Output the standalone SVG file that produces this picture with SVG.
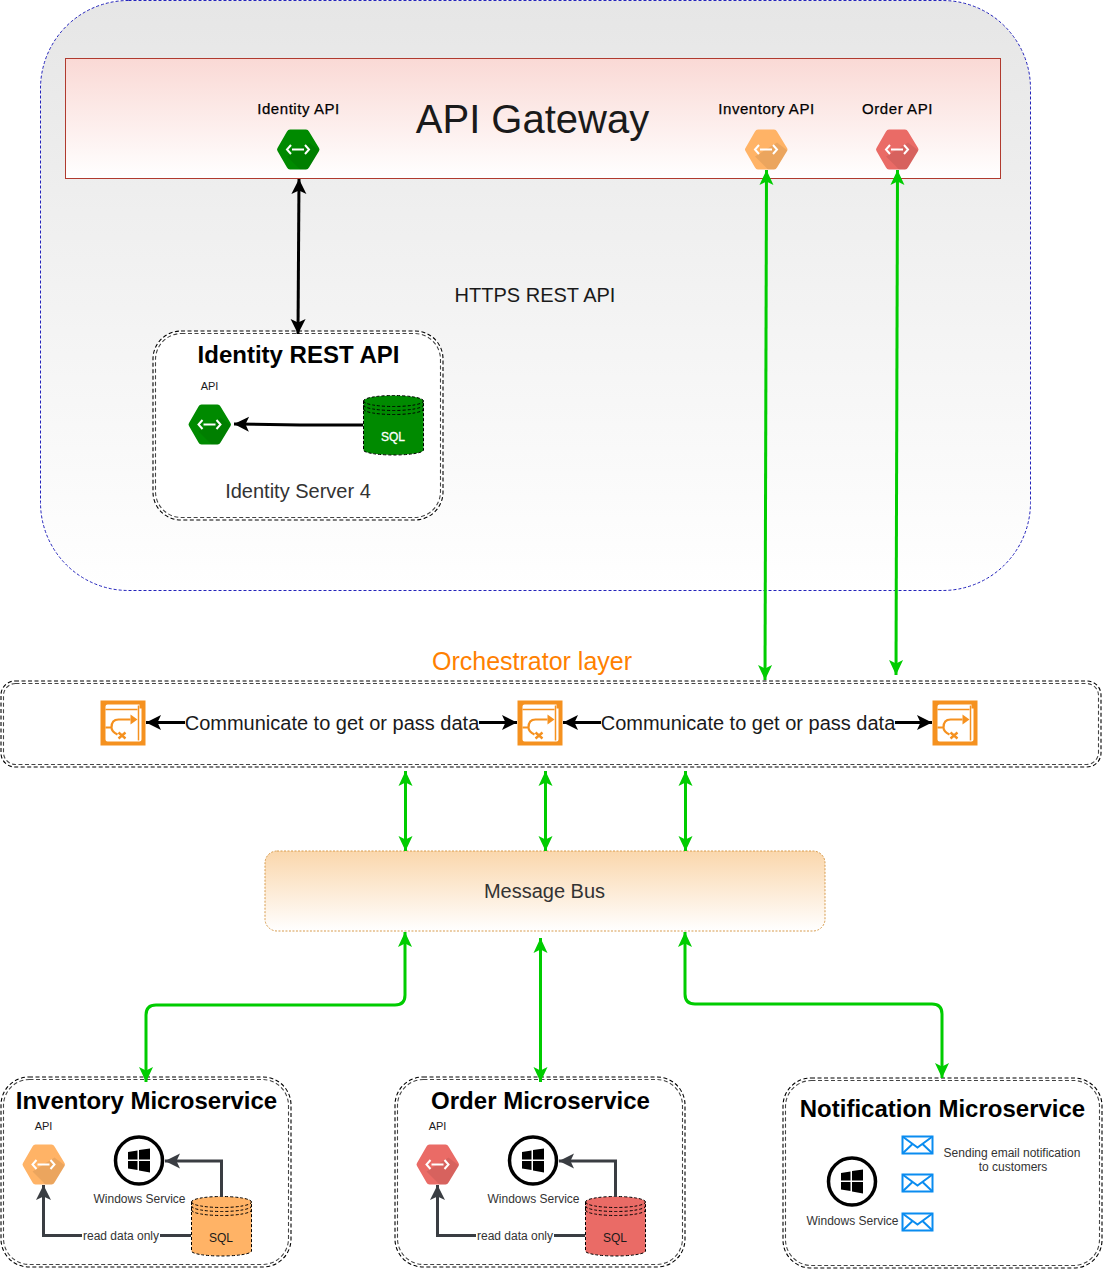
<svg xmlns="http://www.w3.org/2000/svg" width="1103" height="1269" viewBox="0 0 1103 1269">
<style>
text{font-family:"Liberation Sans",Arial,sans-serif;fill:#1a1a1a;text-anchor:middle}
.b{font-weight:bold;fill:#000}
.t{font-size:15px;letter-spacing:.55px;fill:#000;stroke:#000;stroke-width:.25}
.g{font-size:12px;fill:#333}
.d1{fill:#fff;stroke:#000;stroke-width:1.100;stroke-dasharray:4 2.500}
.d2{fill:none;stroke:#444;stroke-width:1.100;stroke-dasharray:4 2.500}
.gr{fill:none;stroke:#00cc00;stroke-width:3;marker-start:url(#ga);marker-end:url(#ga)}
.bk{fill:none;stroke:#000;stroke-width:3}
.dk{fill:none;stroke:#3a3d42;stroke-width:3;marker-end:url(#da)}
.mail{fill:#fff;stroke:#0a8cf0;stroke-width:2}
.cyl{stroke:#000;stroke-dasharray:3 2}
.cl{fill:none;stroke:#000;stroke-dasharray:3 2}
</style>
<defs>
<linearGradient id="bgG" x1="0" y1="0" x2="0" y2="1"><stop offset="0" stop-color="#e6e6e6"/><stop offset="1" stop-color="#fff"/></linearGradient>
<linearGradient id="redG" x1="0" y1="0" x2="0" y2="1"><stop offset="0" stop-color="#fad9d5"/><stop offset="1" stop-color="#fff"/></linearGradient>
<linearGradient id="busG" x1="0" y1="0" x2="0" y2="1"><stop offset="0" stop-color="#fad7ac"/><stop offset="1" stop-color="#fff"/></linearGradient>
<marker id="ga" markerUnits="userSpaceOnUse" markerWidth="18" markerHeight="18" viewBox="0 -9 18 18" refX="16" refY="0" orient="auto-start-reverse"><path d="M1-7L16 0L1 7L4.500 0Z" fill="#00cc00"/></marker>
<marker id="ka" markerUnits="userSpaceOnUse" markerWidth="18" markerHeight="18" viewBox="0 -9 18 18" refX="16" refY="0" orient="auto-start-reverse"><path d="M1-7.500L16 0L1 7.500L4.500 0Z" fill="#000"/></marker>
<marker id="da" markerUnits="userSpaceOnUse" markerWidth="18" markerHeight="18" viewBox="0 -9 18 18" refX="16" refY="0" orient="auto"><path d="M1-7.500L16 0L1 7.500L4.500 0Z" fill="#3a3d42"/></marker>
<path id="hexS" d="M-20.500-1.500L-11-18Q-10-20-8-20H8Q10-20 11-18L21-1.500Q22 0 21 1.500L11 18Q10 20 8 20H-8Q-10 20-11 18L-20.500 1.500Q-21.500 0-20.500-1.500Z"/>
<g id="hexI" fill="none" stroke="#fff" stroke-width="2"><path d="M-6 0H6"/><path d="M-7-4.500L-11 0L-7 4.500M7-4.500L11 0L7 4.500"/></g>
<path id="hexD" d="M11-7L21.500 1L11 18Q10 20 8 20H2L-11 7Z" fill="#000" opacity=".08"/>
<g id="orch"><rect x="0" y="0" width="45" height="45" fill="#f5911f"/><path d="M5 6Q5 4 7 4H39V8H41V39Q41 41 39 41H7Q5 41 5 39Z" fill="#fff"/><path d="M38 5V40" stroke="#f5911f" stroke-width="1.500"/><path d="M5 9H37" stroke="#f5911f" stroke-width="1.500"/><path d="M5 27H10M30 19H18Q11 19 11 27Q11 31 17 34" fill="none" stroke="#f5911f" stroke-width="2.200"/><path d="M30 14V24L37 19Z" fill="#f5911f"/><path d="M18 32L25 38M25 32L18 38" stroke="#f5911f" stroke-width="2.400"/></g>
<g id="win"><circle cx="0" cy="0" r="23.500" fill="#fff" stroke="#000" stroke-width="3.500"/><path d="M-11-8.500L-1.500-10V-1H-11ZM0-10.500L11-12V-1H0ZM-11 .5H-1.500V9.500L-11 8ZM0 .5H11V12L0 10Z" fill="#000"/></g>
<g id="mailI"><rect x="0" y="0" width="30" height="17" class="mail"/><path d="M0 0L15 11L30 0M0 17L10 7.500M30 17L20 7.500" class="mail" style="fill:none"/></g>
</defs>

<g id="api-zone"><rect x="40.500" y="0.500" width="990" height="590" rx="88" fill="url(#bgG)" stroke="#2222bb" stroke-width="1" stroke-dasharray="3 2"/></g>
<g id="api-gateway"><rect x="65.500" y="58.500" width="935" height="120" fill="url(#redG)" stroke="#b03a2e"/>
<text x="532.500" y="133" font-size="40">API Gateway</text></g>

<g id="identity-api"><text x="298.500" y="114" class="t">Identity API</text><use href="#hexS" x="298" y="149.500" fill="#008a00"/><use href="#hexD" x="298" y="149.500"/><use href="#hexI" x="298" y="149.500"/></g>
<g id="inventory-api"><text x="766.500" y="114" class="t">Inventory API</text><use href="#hexS" x="766" y="149.500" fill="#ffb366"/><use href="#hexD" x="766" y="149.500"/><use href="#hexI" x="766" y="149.500"/></g>
<g id="order-api"><text x="897.500" y="114" class="t">Order API</text><use href="#hexS" x="897" y="149.500" fill="#ea6b66"/><use href="#hexD" x="897" y="149.500"/><use href="#hexI" x="897" y="149.500"/></g>
<g id="https-label"><text x="535" y="302" font-size="20">HTTPS REST API</text></g>

<g id="identity-rest"><rect x="153" y="331" width="290" height="189" rx="28" class="d1"/><rect x="155.500" y="333.500" width="285" height="184" rx="26" class="d2"/>
<text x="298.500" y="363" class="b" font-size="24">Identity REST API</text>
<text x="209.500" y="390" font-size="11">API</text>
<use href="#hexS" x="209.500" y="424.500" fill="#008a00"/><use href="#hexD" x="209.500" y="424.500"/><use href="#hexI" x="209.500" y="424.500"/>
<path d="M363.500 401V450A30 5 0 0 0 423.500 450V401A30 5.500 0 0 0 363.500 401Z" fill="#008a00" class="cyl"/><path d="M363.500 401A30 5.500 0 0 0 423.500 401M363.500 405A30 5.500 0 0 0 423.500 405M363.500 409A30 5.500 0 0 0 423.500 409" class="cl"/><text x="393" y="441" font-size="12" style="fill:#fff;stroke:#fff;stroke-width:.3">SQL</text>
<text x="298" y="498" font-size="20" style="fill:#333">Identity Server 4</text></g>

<g id="orchestrator"><text x="532" y="670" font-size="25" style="fill:#ff8000">Orchestrator layer</text>
<rect x="1" y="681" width="1100" height="86" rx="14" class="d1"/><rect x="3.500" y="683.500" width="1095" height="81" rx="12" class="d2"/>
<use href="#orch" x="100.500" y="700.500"/><use href="#orch" x="517.500" y="700.500"/><use href="#orch" x="932.500" y="700.500"/>
<text x="332" y="730" font-size="20">Communicate to get or pass data</text><text x="748" y="730" font-size="20">Communicate to get or pass data</text></g>

<g id="message-bus"><rect x="265" y="851" width="560" height="80" rx="12" fill="url(#busG)" stroke="#d79b4c" stroke-dasharray="2 1.500"/><text x="544.500" y="898" font-size="20" style="fill:#333">Message Bus</text></g>

<g id="inventory-ms"><rect x="1" y="1077" width="290" height="190" rx="28" class="d1"/><rect x="3.500" y="1079.500" width="285" height="185" rx="26" class="d2"/>
<text x="146.500" y="1109" class="b" font-size="24">Inventory Microservice</text>
<text x="43.500" y="1130" font-size="11">API</text>
<use href="#hexS" x="43.500" y="1164.500" fill="#ffb366"/><use href="#hexD" x="43.500" y="1164.500"/><use href="#hexI" x="43.500" y="1164.500"/>
<use href="#win" x="139" y="1160.500"/><text x="139.500" y="1203" class="g">Windows Service</text>
<path d="M191.500 1202V1251A30 5 0 0 0 251.500 1251V1202A30 5.500 0 0 0 191.500 1202Z" fill="#ffb366" class="cyl"/><path d="M191.500 1202A30 5.500 0 0 0 251.500 1202M191.500 1206A30 5.500 0 0 0 251.500 1206M191.500 1210A30 5.500 0 0 0 251.500 1210" class="cl"/><text x="221" y="1242" font-size="12">SQL</text></g>

<g id="order-ms"><rect x="395" y="1077" width="290" height="190" rx="28" class="d1"/><rect x="397.500" y="1079.500" width="285" height="185" rx="26" class="d2"/>
<text x="540.500" y="1109" class="b" font-size="24">Order Microservice</text>
<text x="437.500" y="1130" font-size="11">API</text>
<use href="#hexS" x="437.500" y="1164.500" fill="#ea6b66"/><use href="#hexD" x="437.500" y="1164.500"/><use href="#hexI" x="437.500" y="1164.500"/>
<use href="#win" x="533" y="1160.500"/><text x="533.500" y="1203" class="g">Windows Service</text>
<path d="M585.500 1202V1251A30 5 0 0 0 645.500 1251V1202A30 5.500 0 0 0 585.500 1202Z" fill="#ea6b66" class="cyl"/><path d="M585.500 1202A30 5.500 0 0 0 645.500 1202M585.500 1206A30 5.500 0 0 0 645.500 1206M585.500 1210A30 5.500 0 0 0 645.500 1210" class="cl"/><text x="615" y="1242" font-size="12">SQL</text></g>

<g id="notification-ms"><rect x="783" y="1078" width="319" height="190" rx="28" class="d1"/><rect x="785.500" y="1080.500" width="314" height="185" rx="26" class="d2"/>
<text x="942.500" y="1117" class="b" font-size="24">Notification Microservice</text>
<use href="#win" x="852" y="1181.500"/><text x="852.500" y="1225" class="g">Windows Service</text>
<use href="#mailI" x="902.500" y="1136.500"/><use href="#mailI" x="902.500" y="1174.500"/><use href="#mailI" x="902.500" y="1213.500"/>
<text x="1012" y="1157" class="g">Sending email notification</text><text x="1013" y="1171" class="g">to customers</text></g>

<g id="connectors">
<path d="M299 179L298 334" class="bk" marker-start="url(#ka)" marker-end="url(#ka)"/>
<path d="M363 425L300 425L234 424" class="bk" marker-end="url(#ka)"/>
<path d="M766.500 170L765 680" class="gr"/>
<path d="M897.500 170L896 675" class="gr"/>
<path d="M405.500 771V851" class="gr"/><path d="M545.500 771V851" class="gr"/><path d="M685.500 771V851" class="gr"/>
<path d="M146 1082V1015Q146 1005 156 1005H395Q405 1005 405 995V932" class="gr"/>
<path d="M540.500 938V1082" class="gr"/>
<path d="M685 932V994Q685 1004 695 1004H932Q942 1004 942 1014V1078" class="gr"/>
<path d="M185 722.500H146" class="bk" marker-end="url(#ka)"/><path d="M479 722.500H517" class="bk" marker-end="url(#ka)"/>
<path d="M601 722.500H563" class="bk" marker-end="url(#ka)"/><path d="M895 722.500H932" class="bk" marker-end="url(#ka)"/>
<path d="M221.500 1197V1161H165" class="dk"/>
<path d="M191 1235.500H160M82 1235.500H43.500V1185" class="dk"/>
<path d="M615.500 1197V1161H559" class="dk"/>
<path d="M585 1235.500H554M476 1235.500H437.500V1185" class="dk"/>
<text x="121" y="1240" class="g">read data only</text><text x="515" y="1240" class="g">read data only</text>
</g>
</svg>
